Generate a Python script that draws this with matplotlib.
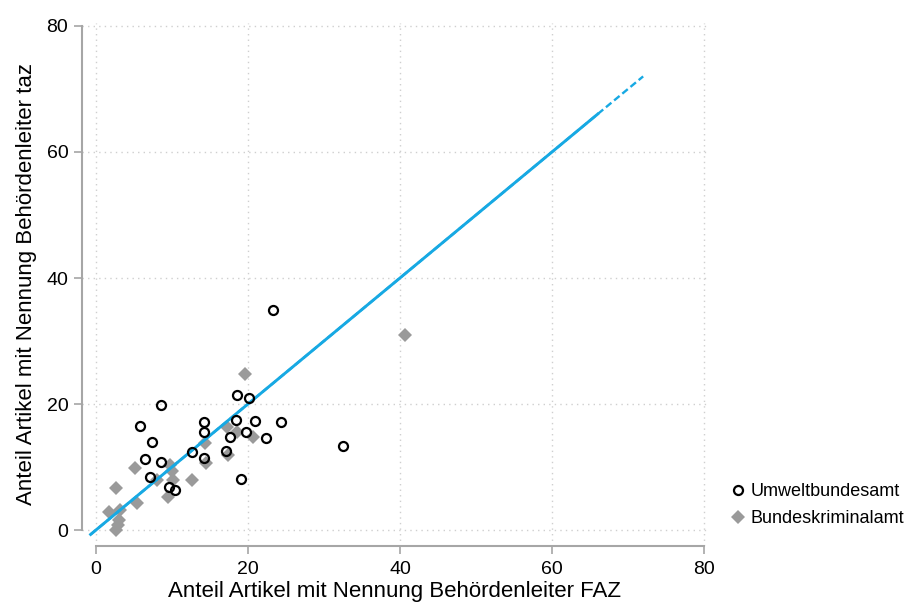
import matplotlib
matplotlib.use("Agg")
import matplotlib.pyplot as plt
import numpy as np

plt.rcParams['font.family'] = ['Liberation Sans', 'DejaVu Sans']

# Umweltbundesamt (Kreise)
uba_faz = [18.6, 20.2, 8.6, 5.8, 14.2, 14.2, 18.4, 20.9, 24.3, 7.4, 17.6, 19.8,
           22.4, 12.7, 17.1, 6.5, 8.5, 14.2, 7.1, 19.1, 9.6, 10.4, 23.3, 32.5]
uba_taz = [21.4, 20.9, 19.8, 16.5, 17.1, 15.6, 17.5, 17.3, 17.1, 13.9, 14.7, 15.5,
           14.6, 12.4, 12.6, 11.3, 10.8, 11.4, 8.4, 8.1, 6.8, 6.3, 35.0, 13.3]

# Bundeskriminalamt (Rauten)
bka_faz = [19.6, 40.6, 17.3, 18.5, 20.7, 14.3, 17.4, 14.5, 12.6, 5.1, 9.7, 10.0,
           10.2, 8.0, 9.5, 2.7, 5.4, 1.7, 3.2, 3.1, 2.9, 2.7]
bka_taz = [24.7, 31.0, 16.4, 15.5, 14.8, 13.8, 11.9, 10.7, 7.9, 9.8, 10.4, 9.3,
           7.9, 7.9, 5.3, 6.6, 4.3, 2.9, 3.2, 1.6, 0.8, 0.0]

# Linie y = x
line_solid = [-0.7, 66]
line_dashed = [-0.7, 72]

ticks = [0, 20, 40, 60, 80]
blue = '#17a9e3'
gray_axis = '#a6a6a6'

fig = plt.figure(figsize=(9.15, 6.09), dpi=100)
ax = fig.add_axes([0.0899, 0.1034, 0.6836, 0.8591])

ax.plot(line_dashed, line_dashed, color=blue, lw=1.7, ls=(0, (3, 1.5)), zorder=3)
ax.plot(line_solid, line_solid, color=blue, lw=2.1, zorder=3)

ax.plot(uba_faz, uba_taz, 'o', ms=6.5, mfc='none', mec='black', mew=1.6,
        label='Umweltbundesamt', zorder=4)
ax.plot(bka_faz, bka_taz, 'D', ms=7.6, mfc='#9a9a9a', mec='#9a9a9a', mew=0,
        label='Bundeskriminalamt', zorder=2)

ax.set_xlim(-1.8, 80.5)
ax.set_ylim(-2.54, 80.5)
ax.set_xticks(ticks)
ax.set_yticks(ticks)

ax.grid(True, color='#cfcfcf', lw=1.0, ls=(0, (1, 3)))
ax.set_axisbelow(True)

for s in ['top', 'right']:
    ax.spines[s].set_visible(False)
for s in ['left', 'bottom']:
    ax.spines[s].set_color(gray_axis)
    ax.spines[s].set_linewidth(1.5)
    ax.spines[s].set_bounds(0, 80)

ax.tick_params(axis='both', colors=gray_axis, length=6, width=1.2,
               labelcolor='black', labelsize=14)
ax.tick_params(axis='x', pad=5)
ax.tick_params(axis='y', pad=4)

ax.set_xlabel('Anteil Artikel mit Nennung Behördenleiter FAZ', fontsize=16, labelpad=2)
ax.set_ylabel('Anteil Artikel mit Nennung Behördenleiter taz', fontsize=16, labelpad=7)

ax.legend(loc='center left', bbox_to_anchor=(0.789, 0.171), bbox_transform=fig.transFigure,
          frameon=False, fontsize=13, handletextpad=0.2, labelspacing=0.55,
          handlelength=1.0, borderaxespad=0)

fig.savefig('out.png', dpi=100)
